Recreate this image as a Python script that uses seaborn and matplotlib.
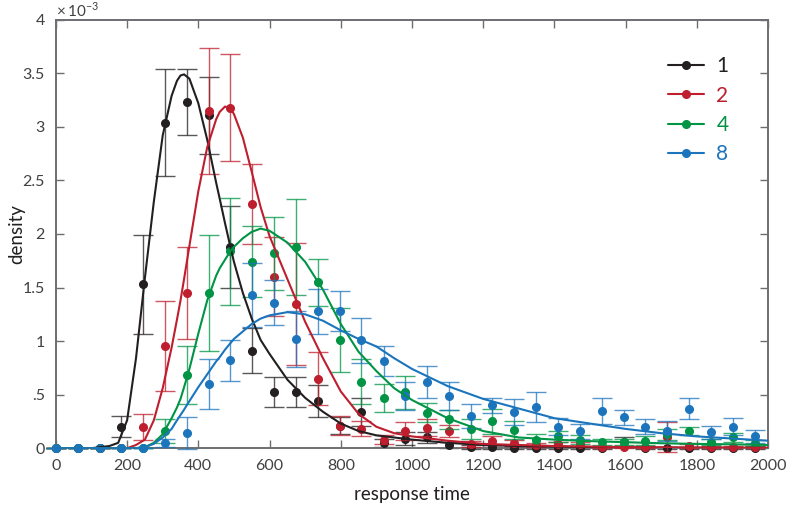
import numpy as np
import pandas as pd
import matplotlib
matplotlib.use("Agg")
import matplotlib.pyplot as plt
from matplotlib.lines import Line2D
import seaborn as sns

# binned response times (ms) and densities (units of 1e-3)
bin_x = [0, 61, 123, 184, 245, 307, 368, 429, 490, 552, 613, 674, 736, 797, 858,
         920, 981, 1042, 1103, 1165, 1226, 1287, 1349, 1410, 1471, 1533, 1594,
         1655, 1716, 1778, 1839, 1900, 1962]

dens_1 = [0, 0, 0, 0.20, 1.53, 3.04, 3.23, 3.11, 1.88, 0.91, 0.52, 0.52, 0.44, 0.21,
          0.34, 0.05, 0.09, 0.10, 0.03, 0.01, 0.01, 0, 0, 0, 0, 0, 0.06, 0, 0, 0, 0, 0, 0]
err_1 = [0, 0, 0, 0.10, 0.46, 0.50, 0.31, 0.36, 0.38, 0.21, 0.14, 0.14, 0.15, 0.08,
         0.13, 0.04, 0.06, 0.05, 0.03, 0.02, 0.02, 0.01, 0.01, 0.01, 0.01, 0.01, 0.04,
         0.01, 0.01, 0.01, 0.01, 0.01, 0.01]

dens_2 = [0, 0, 0, 0, 0.20, 0.95, 1.45, 3.15, 3.18, 2.28, 1.60, 1.35, 0.65, 0.21, 0.18,
          0.08, 0.16, 0.19, 0.16, 0.04, 0.07, 0.05, 0.03, 0.04, 0.04, 0.01, 0.01, 0.01,
          0.10, 0.02, 0.01, 0.01, 0.01]
err_2 = [0, 0, 0, 0, 0.12, 0.42, 0.43, 0.59, 0.50, 0.37, 0.37, 0.57, 0.25, 0.09, 0.07,
         0.04, 0.08, 0.08, 0.06, 0.03, 0.04, 0.03, 0.02, 0.02, 0.02, 0.01, 0.01, 0.01,
         0.14, 0.02, 0.01, 0.01, 0.01]

dens_4 = [0, 0, 0, 0, 0, 0.16, 0.68, 1.45, 1.84, 1.74, 1.82, 1.88, 1.55, 1.01, 0.62,
          0.47, 0.52, 0.33, 0.27, 0.18, 0.25, 0.17, 0.08, 0.11, 0.08, 0.06, 0.06, 0.07,
          0.13, 0.16, 0.06, 0.10, 0.05]
err_4 = [0, 0, 0, 0, 0, 0.11, 0.27, 0.54, 0.50, 0.33, 0.34, 0.45, 0.22, 0.30, 0.21,
         0.13, 0.15, 0.09, 0.09, 0.09, 0.12, 0.08, 0.05, 0.05, 0.04, 0.03, 0.03, 0.04,
         0.05, 0.04, 0.03, 0.04, 0.03]

dens_8 = [0, 0, 0, 0, 0, 0.05, 0.14, 0.60, 0.82, 1.43, 1.36, 1.02, 1.28, 1.28, 1.01,
          0.81, 0.49, 0.62, 0.49, 0.30, 0.40, 0.34, 0.38, 0.20, 0.16, 0.35, 0.29, 0.20,
          0.16, 0.37, 0.15, 0.20, 0.11]
err_8 = [0, 0, 0, 0, 0, 0.04, 0.15, 0.23, 0.19, 0.30, 0.21, 0.26, 0.21, 0.19, 0.21,
         0.14, 0.13, 0.15, 0.13, 0.11, 0.07, 0.12, 0.14, 0.08, 0.07, 0.12, 0.07, 0.07,
         0.09, 0.10, 0.06, 0.08, 0.06]

# fitted curves
fit_x = [0, 100, 150, 175, 200, 225, 250, 275, 300, 325, 340, 350, 360, 375, 400, 425,
         450, 460, 475, 490, 500, 525, 550, 575, 600, 650, 700, 750, 800, 850, 900, 950,
         1000, 1100, 1200, 1300, 1400, 1500, 1600, 1700, 1800, 1900, 2000]
fit_1 = [0, 0, 0.02, 0.05, 0.26, 0.84, 1.59, 2.30, 2.92, 3.29, 3.43, 3.48, 3.49, 3.45,
         3.22, 2.88, 2.48, 2.33, 2.10, 1.88, 1.74, 1.45, 1.21, 1.01, 0.88, 0.64, 0.47,
         0.34, 0.23, 0.16, 0.12, 0.10, 0.08, 0.05, 0.03, 0.02, 0.015, 0.01, 0.008,
         0.005, 0.004, 0.003, 0.002]
fit_2 = [0, 0, 0, 0, 0, 0.03, 0.08, 0.26, 0.56, 0.94, 1.20, 1.38, 1.58, 1.89, 2.40,
         2.81, 3.07, 3.14, 3.19, 3.17, 3.12, 2.90, 2.58, 2.25, 1.98, 1.58, 1.18, 0.84,
         0.53, 0.32, 0.20, 0.14, 0.11, 0.07, 0.04, 0.03, 0.02, 0.015, 0.01, 0.008,
         0.006, 0.005, 0.004]
fit_4 = [0, 0, 0, 0, 0, 0, 0.01, 0.05, 0.13, 0.28, 0.38, 0.46, 0.57, 0.74, 1.07, 1.38,
         1.61, 1.68, 1.76, 1.84, 1.88, 1.96, 2.02, 2.05, 2.03, 1.92, 1.74, 1.48, 1.16,
         0.90, 0.72, 0.56, 0.45, 0.28, 0.16, 0.10, 0.08, 0.066, 0.056, 0.046, 0.04,
         0.036, 0.03]
fit_8 = [0, 0, 0, 0, 0, 0, 0.01, 0.04, 0.10, 0.18, 0.26, 0.31, 0.36, 0.44, 0.57, 0.69,
         0.81, 0.85, 0.92, 0.98, 1.02, 1.09, 1.16, 1.21, 1.24, 1.27, 1.25, 1.19, 1.10,
         1.02, 0.95, 0.84, 0.74, 0.58, 0.46, 0.37, 0.28, 0.23, 0.18, 0.14, 0.11, 0.09,
         0.07]

set_sizes = ['1', '2', '4', '8']
colors = ['#231f20', '#be1e2d', '#009444', '#1c75bc']
y_ticks = [0, 0.5, 1, 1.5, 2, 2.5, 3, 3.5, 4]
y_labels = ['0', '.5', '1', '1.5', '2', '2.5', '3', '3.5', '4']
x_ticks = [0, 200, 400, 600, 800, 1000, 1200, 1400, 1600, 1800, 2000]

sns.set_theme(style='ticks')
plt.rcParams['font.family'] = ['Lato', 'DejaVu Sans']
plt.rcParams['mathtext.fontset'] = 'custom'
plt.rcParams['mathtext.rm'] = 'Lato'

fig, ax = plt.subplots(figsize=(7.87, 5.07), dpi=100)
fig.subplots_adjust(left=0.071, right=0.976, bottom=0.116, top=0.961)

dens = [dens_1, dens_2, dens_4, dens_8]
errs = [err_1, err_2, err_4, err_8]
fits = [fit_1, fit_2, fit_4, fit_8]

# curves as a long table for seaborn
curve_df = pd.concat([pd.DataFrame({'rt': fit_x, 'density': f, 'set size': s})
                      for s, f in zip(set_sizes, fits)], ignore_index=True)

for k, (s, c) in enumerate(zip(set_sizes, colors)):
    eb = ax.errorbar(bin_x, dens[k], yerr=errs[k], fmt='none', ecolor=c, elinewidth=1,
                     capsize=7, capthick=1, alpha=0.75, zorder=2 + k)
    for art in eb.get_children():
        art.set_clip_on(False)
    ax.plot(bin_x, dens[k], 'o', color=c, markersize=5.5, zorder=3 + k, clip_on=False)

sns.lineplot(data=curve_df, x='rt', y='density', hue='set size', hue_order=set_sizes,
             palette=colors, linewidth=1.5, legend=False, ax=ax, zorder=6)

ax.set_xlim(0, 2000)
ax.set_ylim(0, 4)
ax.set_xticks(x_ticks)
ax.set_yticks(y_ticks)
ax.set_yticklabels(y_labels)
ax.tick_params(direction='in', top=True, right=True, length=6, width=1,
               color='#6d6e71', labelcolor='#414042', labelsize=11.5, pad=8)
for sp in ax.spines.values():
    sp.set_visible(True)
    sp.set_color('#6d6e71')
    sp.set_linewidth(1.4)

ax.set_xlabel('response time', fontsize=13.5, color='#231f20', labelpad=9)
ax.set_ylabel('density', fontsize=13.5, color='#231f20', labelpad=-2)
ax.text(0.0, 1.0, r'$\times\,10^{-3}$', transform=ax.transAxes, fontsize=11,
        color='#414042', ha='left', va='bottom')

handles = [Line2D([0], [0], color=c, lw=1.5, marker='o', markersize=5.5) for c in colors]
leg = ax.legend(handles, set_sizes, loc='upper left', bbox_to_anchor=(0.86, 0.915),
                frameon=False, fontsize=15, numpoints=1, handlelength=1.7,
                handletextpad=0.6, labelspacing=0.45, borderpad=0, borderaxespad=0)
for t, c in zip(leg.get_texts(), colors):
    t.set_color(c)

fig.savefig('out.png', dpi=100)
